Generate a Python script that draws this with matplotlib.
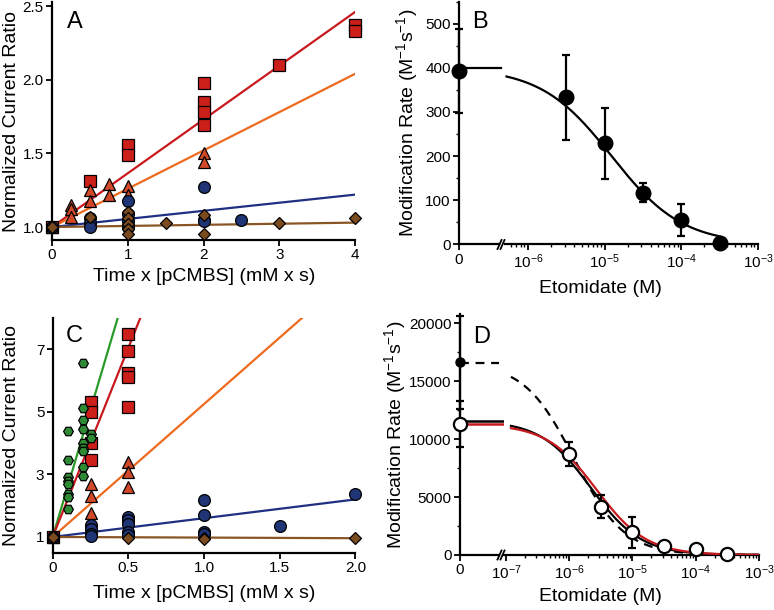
import numpy as np
import matplotlib
matplotlib.use("Agg")
import matplotlib.pyplot as plt
from matplotlib.ticker import MultipleLocator, FixedLocator, LogLocator, NullFormatter, FixedFormatter
from matplotlib.lines import Line2D

plt.rcParams['font.family'] = ['Liberation Sans', 'DejaVu Sans']
plt.rcParams['mathtext.fontset'] = 'custom'
plt.rcParams['mathtext.rm'] = 'Liberation Sans'
plt.rcParams['mathtext.it'] = 'Liberation Sans:italic'
plt.rcParams['mathtext.bf'] = 'Liberation Sans:bold'

# ---------------- Panel A data ----------------
a_sq_x = [0, 0.5, 1, 1, 2, 2, 2, 2, 3, 4, 4]
a_sq_y = [1.0, 1.31, 1.56, 1.49, 1.98, 1.85, 1.78, 1.69, 2.10, 2.37, 2.33]
a_tri_x = [0, 0.25, 0.25, 0.25, 0.5, 0.5, 0.75, 0.75, 1, 1, 2, 2]
a_tri_y = [1.0, 1.15, 1.12, 1.07, 1.25, 1.18, 1.29, 1.22, 1.28, 1.22, 1.50, 1.44]
a_cir_x = [0, 0.5, 0.5, 0.5, 1, 1, 1, 1, 2, 2, 2, 2.5]
a_cir_y = [1.0, 1.06, 1.03, 1.00, 1.18, 1.09, 1.04, 1.00, 1.27, 1.05, 1.04, 1.05]
a_dia_x = [0, 0.5, 1, 1, 1, 1, 1, 1.5, 2, 2, 3, 4]
a_dia_y = [1.0, 1.07, 1.10, 1.06, 1.02, 0.99, 0.95, 1.03, 1.08, 0.95, 1.03, 1.06]
a_slopes = [0.365, 0.26, 0.055, 0.0075]   # red, orange, blue, brown
a_xticks = [0, 1, 2, 3, 4]
a_yticks = [1.0, 1.5, 2.0, 2.5]

# ---------------- Panel C data ----------------
c_grn_x = [0, 0.1, 0.1, 0.1, 0.1, 0.1, 0.1, 0.1, 0.1,
           0.2, 0.2, 0.2, 0.2, 0.2, 0.2, 0.2, 0.2, 0.2, 0.25, 0.25]
c_grn_y = [1.0, 4.38, 3.47, 2.91, 2.79, 2.68, 2.38, 2.28, 1.90,
           6.56, 5.13, 4.74, 4.45, 4.01, 3.85, 3.74, 3.23, 2.96, 4.28, 4.17]
c_sq_x = [0, 0.25, 0.25, 0.25, 0.25, 0.5, 0.5, 0.5, 0.5, 0.5]
c_sq_y = [1.0, 5.33, 4.99, 4.01, 3.45, 7.49, 6.96, 6.23, 6.11, 5.15]
c_tri_x = [0, 0.25, 0.25, 0.25, 0.5, 0.5, 0.5]
c_tri_y = [1.0, 2.68, 2.31, 1.77, 3.39, 3.07, 2.60]
c_cir_x = [0, 0.25, 0.25, 0.25, 0.25, 0.5, 0.5, 0.5, 0.5, 0.5, 1.0, 1.0, 1.0, 1.0, 1.5, 2.0]
c_cir_y = [1.0, 1.37, 1.27, 1.09, 1.03, 1.64, 1.53, 1.43, 1.16, 1.05, 2.19, 1.71, 1.16, 1.09, 1.35, 2.36]
c_dia_x = [0, 0.5, 1.0, 1.0, 2.0]
c_dia_y = [1.0, 0.97, 0.97, 0.93, 0.97]
c_slopes = [16.3, 12.1, 4.25, 0.6, -0.02]  # green, red, orange, blue, brown
c_xticks = [0, 0.5, 1.0, 1.5, 2.0]
c_xticklabels = ['0', '0.5', '1.0', '1.5', '2.0']
c_yticks = [1, 3, 5, 7]

# ---------------- Panel B data ----------------
b_y0, b_err0 = 393, 95
b_x = [3.16e-6, 1e-5, 3.16e-5, 1e-4, 3.16e-4]
b_y = [333, 229, 117, 55, 2]
b_err = [97, 81, 22, 36, 0]
b_fit = dict(top=400, ic50=1.23e-5, n=0.94)

# ---------------- Panel D data ----------------
d_open_y0, d_open_err0 = 11310, 2000
d_fill_y0, d_fill_err0 = 16630, 4000
d_x = [1e-6, 3.16e-6, 1e-5, 3.16e-5, 1e-4, 3.16e-4]
d_y = [8720, 4170, 1960, 810, 520, 90]
d_err = [1000, 1000, 1350, 0, 0, 0]
d_fit_dash = dict(top=16600, ic50=1.2e-6, n=1.1)
d_fit_black = dict(top=11600, ic50=2.2e-6, n=1.1)
d_fit_red = dict(top=11300, ic50=2.7e-6, n=1.1)

# colours
RED_F, RED_L = '#cc1f1a', '#c8191e'
TRI_F, ORA_L = '#d2492a', '#ee6a1e'
BLU_F, BLU_L = '#1f3575', '#1f2f82'
BRN_F, BRN_L = '#7b4a1f', '#8a5525'
GRN_F, GRN_L = '#2f8a35', '#2a9a2a'

def hill(x, top, ic50, n):
    return top / (1.0 + (x / ic50) ** n)

W, H = 774, 610
fig = plt.figure(figsize=(W / 100, H / 100), dpi=100)

def rect(l, r, t, b):
    return [l / W, 1 - b / H, (r - l) / W, (b - t) / H]

def style(ax, left=True):
    for s in ['top', 'right']:
        ax.spines[s].set_visible(False)
    ax.spines['left'].set_visible(left)
    for s in ['left', 'bottom']:
        ax.spines[s].set_linewidth(1.6)
    ax.tick_params(which='major', direction='out', length=4, width=1.3, labelsize=11, pad=2)
    ax.tick_params(which='minor', direction='out', length=2.2, width=1.0)

def px_label_x(ax, cx, top_px):
    bb = ax.get_position()
    x0, x1 = bb.x0 * W, bb.x1 * W
    y0 = (1 - bb.y0) * H
    y1 = (1 - bb.y1) * H
    ax.xaxis.set_label_coords((cx - x0) / (x1 - x0), -(top_px - y0) / (y0 - y1))

def px_label_y(ax, right_px, cy):
    bb = ax.get_position()
    x0, x1 = bb.x0 * W, bb.x1 * W
    yb = (1 - bb.y0) * H
    yt = (1 - bb.y1) * H
    ax.yaxis.set_label_coords((right_px - x0) / (x1 - x0), (yb - cy) / (yb - yt))

def scatter(ax, x, y, marker, fc, ms, z):
    ax.plot(x, y, linestyle='none', marker=marker, markerfacecolor=fc,
            markeredgecolor='black', markeredgewidth=0.9, markersize=ms,
            clip_on=False, zorder=z)

# ================= Panel A =================
axA = fig.add_axes(rect(52, 355, 1.7, 240))
style(axA)
xa = np.array([0, 4])
for s, c in zip(a_slopes, [RED_L, ORA_L, BLU_L, BRN_L]):
    axA.plot(xa, 1 + s * xa, color=c, lw=1.6, zorder=2)
scatter(axA, a_sq_x, a_sq_y, 's', RED_F, 8.5, 3)
scatter(axA, a_tri_x, a_tri_y, '^', TRI_F, 8.5, 4)
scatter(axA, a_cir_x, a_cir_y, 'o', BLU_F, 8.5, 5)
scatter(axA, a_dia_x, a_dia_y, 'D', BRN_F, 6.5, 6)
axA.set_xlim(0, 4)
axA.set_ylim(0.912, 2.53)
axA.set_xticks(a_xticks)
axA.set_yticks(a_yticks)
axA.set_yticklabels([f'{v:.1f}' for v in a_yticks])
axA.set_xlabel('Time x [pCMBS] (mM x s)', fontsize=14)
axA.set_ylabel('Normalized Current Ratio', fontsize=14)
px_label_x(axA, 204, 268)
px_label_y(axA, 20, 121)
fig.text(67 / W, 1 - 11 / H, 'A', fontsize=17, va='top', ha='left')

# ================= Panel C =================
axC = fig.add_axes(rect(52.7, 355.4, 318, 552.6))
style(axC)
xc = np.array([0, 2])
for s, c in zip(c_slopes, [GRN_L, RED_L, ORA_L, BLU_L, BRN_L]):
    axC.plot(xc, 1 + s * xc, color=c, lw=1.6, zorder=2)
scatter(axC, c_sq_x, c_sq_y, 's', RED_F, 8.5, 3)
scatter(axC, c_tri_x, c_tri_y, '^', TRI_F, 8.5, 4)
scatter(axC, c_grn_x, c_grn_y, 'H', GRN_F, 7, 5)
scatter(axC, c_cir_x, c_cir_y, 'o', BLU_F, 8.5, 5)
scatter(axC, c_dia_x, c_dia_y, 'D', BRN_F, 6.5, 6)
axC.set_xlim(0, 2)
axC.set_ylim(0.5, 8.0)
axC.set_xticks(c_xticks)
axC.set_xticklabels(c_xticklabels)
axC.set_yticks(c_yticks)
axC.set_xlabel('Time x [pCMBS] (mM x s)', fontsize=14)
axC.set_ylabel('Normalized Current Ratio', fontsize=14)
px_label_x(axC, 204, 585)
px_label_y(axC, 20, 435)
fig.text(66 / W, 1 - 325 / H, 'C', fontsize=17, va='top', ha='left')

# ================= Panel B =================
axB0 = fig.add_axes(rect(459, 499, 1.7, 244.3))
axB1 = fig.add_axes(rect(505, 758, 1.7, 244.3), sharey=axB0)
style(axB0)
style(axB1, left=False)
axB1.tick_params(axis='y', which='both', left=False, labelleft=False)
axB0.set_xlim(0, 1)
axB0.set_xticks([0])
axB0.set_xticklabels(['0'])
axB0.set_ylim(0, 550)
axB0.yaxis.set_major_locator(MultipleLocator(100))
axB0.yaxis.set_minor_locator(MultipleLocator(50))
axB1.set_xscale('log')
axB1.set_xlim(10 ** -6.30, 1e-3)
axB1.xaxis.set_major_locator(LogLocator(base=10, numticks=10))
axB1.xaxis.set_minor_locator(LogLocator(base=10, subs=np.arange(2, 10), numticks=10))
axB1.xaxis.set_minor_formatter(NullFormatter())

axB0.plot([0, 1.04], [b_fit['top']] * 2, color='black', lw=1.6, clip_on=False, zorder=2)
xb = np.logspace(-6.28, np.log10(3.16e-4), 200)
axB1.plot(xb, hill(xb, **b_fit), color='black', lw=1.6, zorder=2)
eb = axB0.errorbar([0], [b_y0], yerr=[b_err0], fmt='o', color='black', ms=10.5,
                   capsize=3, elinewidth=1.6, capthick=1.6, zorder=4)
for art in eb.get_children():
    art.set_clip_on(False)
eb = axB1.errorbar(b_x, b_y, yerr=b_err, fmt='o', color='black', ms=10.5,
                   capsize=3, elinewidth=1.6, capthick=1.6, zorder=4)
for art in eb.get_children():
    art.set_clip_on(False)
axB0.set_ylabel('Modification Rate (M$^{-1}$s$^{-1}$)', fontsize=14)
px_label_y(axB0, 420, 123)
axB1.set_xlabel('Etomidate (M)', fontsize=14)
px_label_x(axB1, 600, 280)
fig.text(472 / W, 1 - 11 / H, 'B', fontsize=17, va='top', ha='left')

# ================= Panel D =================
axD0 = fig.add_axes(rect(460, 499, 314, 555))
axD1 = fig.add_axes(rect(504, 759, 314, 555), sharey=axD0)
style(axD0)
style(axD1, left=False)
axD1.tick_params(axis='y', which='both', left=False, labelleft=False)
axD0.set_xlim(0, 1)
axD0.set_xticks([0])
axD0.set_xticklabels(['0'])
axD0.set_ylim(0, 20800)
axD0.yaxis.set_major_locator(MultipleLocator(5000))
axD0.yaxis.set_minor_locator(MultipleLocator(2500))
axD1.set_xscale('log')
axD1.set_xlim(10 ** -7.03, 1e-3)
axD1.xaxis.set_major_locator(LogLocator(base=10, numticks=10))
axD1.xaxis.set_minor_locator(LogLocator(base=10, subs=np.arange(2, 10), numticks=10))
axD1.xaxis.set_minor_formatter(NullFormatter())

axD0.plot([0, 1.0], [d_fit_dash['top']] * 2, color='black', lw=1.6, ls=(0, (4, 3)),
          clip_on=False, zorder=2)
axD0.plot([0, 1.1], [d_fit_red['top']] * 2, color='#c8191e', lw=1.8, clip_on=False, zorder=2)
axD0.plot([0, 1.1], [d_fit_black['top']] * 2, color='black', lw=1.8, clip_on=False, zorder=3)
xd = np.logspace(-6.92, -3, 300)
axD1.plot(xd, hill(xd, **d_fit_dash), color='black', lw=1.6, ls=(0, (4, 3)), zorder=2)
axD1.plot(xd, hill(xd, **d_fit_black), color='black', lw=1.6, zorder=2)
axD1.plot(xd, hill(xd, **d_fit_red), color='#c8191e', lw=1.6, zorder=3)

eb = axD0.errorbar([0], [d_fill_y0], yerr=[d_fill_err0], fmt='o', color='black', ms=6.5,
                   capsize=3, elinewidth=1.6, capthick=1.6, zorder=4)
for art in eb.get_children():
    art.set_clip_on(False)
eb = axD0.errorbar([0], [d_open_y0], yerr=[d_open_err0], fmt='o', color='black',
                   mfc='white', mec='black', mew=1.6, ms=9.5,
                   capsize=3, elinewidth=1.6, capthick=1.6, zorder=5)
for art in eb.get_children():
    art.set_clip_on(False)
eb = axD1.errorbar(d_x, d_y, yerr=d_err, fmt='o', color='black',
                   mfc='white', mec='black', mew=1.6, ms=9.5,
                   capsize=3, elinewidth=1.6, capthick=1.6, zorder=5)
for art in eb.get_children():
    art.set_clip_on(False)
axD0.set_ylabel('Modification Rate (M$^{-1}$s$^{-1}$)', fontsize=14)
px_label_y(axD0, 408, 435)
axD1.set_xlabel('Etomidate (M)', fontsize=14)
px_label_x(axD1, 600, 588)
fig.text(473 / W, 1 - 326 / H, 'D', fontsize=17, va='top', ha='left')

# axis-break marks
def slash(x0, y0, x1, y1):
    fig.add_artist(Line2D([x0 / W, x1 / W], [1 - y0 / H, 1 - y1 / H],
                          color='black', lw=1.3))
slash(497.5, 249, 501.5, 240)
slash(500.5, 249, 504.5, 240)
slash(497.5, 559.5, 501.5, 550.5)
slash(500.5, 559.5, 504.5, 550.5)

fig.savefig('out.png', dpi=100)
